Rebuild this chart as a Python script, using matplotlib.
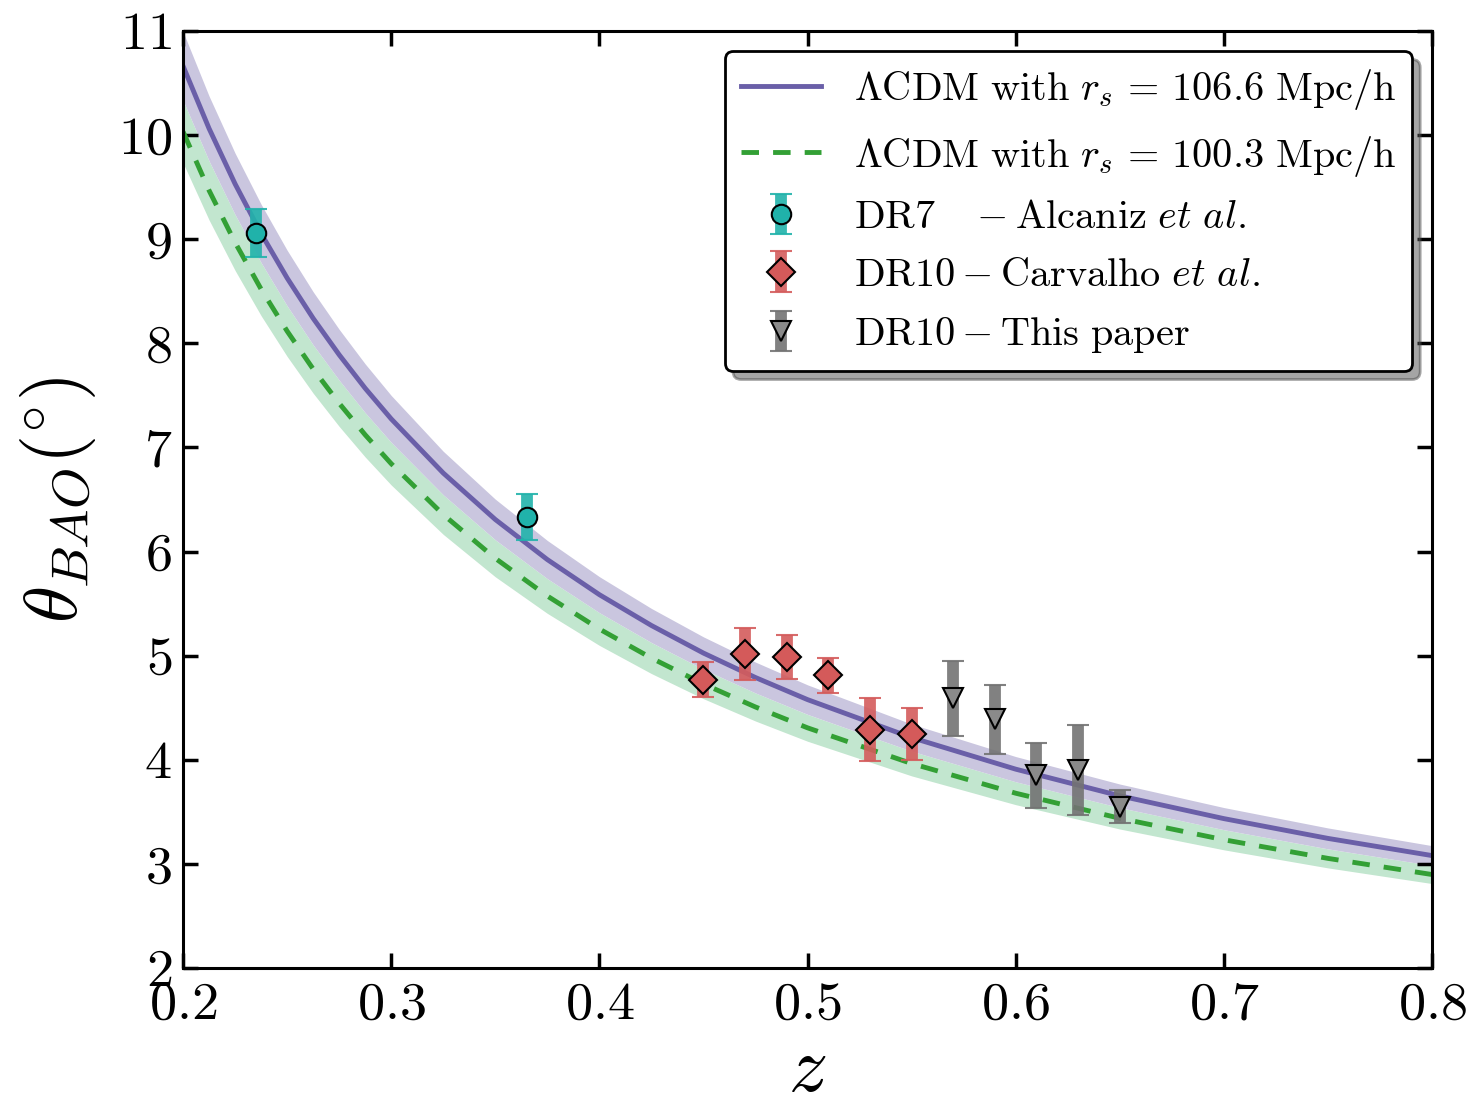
import matplotlib
matplotlib.use("Agg")
import matplotlib.pyplot as plt
from matplotlib.patches import Shadow
import numpy as np

plt.rcParams['font.family'] = 'serif'
plt.rcParams['font.serif'] = ['cmr10']
plt.rcParams['mathtext.fontset'] = 'cm'
plt.rcParams['axes.formatter.use_mathtext'] = True

# model curves (denser sampling where the curve bends most)
z_model = [0.2000, 0.2125, 0.2250, 0.2375, 0.2500, 0.2625, 0.2750, 0.2875,
           0.300, 0.325, 0.350, 0.375, 0.400, 0.425, 0.450, 0.475, 0.500,
           0.550, 0.600, 0.650, 0.700, 0.750, 0.800]
theta_1066 = [10.663, 10.063, 9.531, 9.055, 8.627, 8.240, 7.890, 7.568,
              7.274, 6.754, 6.308, 5.923, 5.586, 5.290, 5.025, 4.790, 4.578,
              4.213, 3.910, 3.654, 3.435, 3.245, 3.080]
theta_1003 = [10.033, 9.468, 8.968, 8.520, 8.117, 7.753, 7.424, 7.121,
              6.844, 6.355, 5.935, 5.573, 5.256, 4.977, 4.728, 4.507, 4.307,
              3.964, 3.679, 3.438, 3.232, 3.053, 2.898]
rs_1066, drs_1066 = 106.6, 3.3
rs_1003, drs_1003 = 100.3, 3.0

# data points
z_dr7 = [0.235, 0.365]
th_dr7 = [9.06, 6.33]
err_dr7 = [0.23, 0.22]

z_carv = [0.45, 0.47, 0.49, 0.51, 0.53, 0.55]
th_carv = [4.77, 5.02, 4.99, 4.81, 4.29, 4.25]
err_carv = [0.17, 0.25, 0.21, 0.17, 0.30, 0.25]

z_this = [0.57, 0.59, 0.61, 0.63, 0.65]
th_this = [4.59, 4.39, 3.85, 3.90, 3.55]
err_this = [0.36, 0.33, 0.31, 0.43, 0.16]

fig = plt.figure(figsize=(14.74, 11.11), dpi=100)
ax = fig.add_axes([0.1242, 0.1287, 0.8473, 0.8434])

zm = np.array(z_model)
t1 = np.array(theta_1066)
t2 = np.array(theta_1003)

# bands
ax.fill_between(zm, t2 * (rs_1003 - drs_1003) / rs_1003, t2 * (rs_1003 + drs_1003) / rs_1003,
                color='#c2e6cf', lw=0, zorder=1)
ax.fill_between(zm, t1 * (rs_1066 - drs_1066) / rs_1066, t1 * (rs_1066 + drs_1066) / rs_1066,
                color='#cac6df', lw=0, zorder=1.1)

ax.plot(zm, t1, color='#6a5fa8', lw=3.5, zorder=2,
        label=r'$\Lambda\mathrm{CDM\ with}\ r_s\,=\,106.6\ \mathrm{Mpc/h}$')
ax.plot(zm, t2, color='#33a035', lw=3.5, ls=(0, (3.6, 2.9)), zorder=2,
        label=r'$\Lambda\mathrm{CDM\ with}\ r_s\,=\,100.3\ \mathrm{Mpc/h}$')

eb_kw = dict(ls='none', ms=14, mec='black', mew=1.5, elinewidth=8.5,
             capsize=8, capthick=1.5, zorder=3)
ax.errorbar(z_dr7, th_dr7, yerr=err_dr7, fmt='o', color='#20b2aa',
            ecolor=(0.13, 0.70, 0.67, 0.9), label=r'$\mathrm{DR7}\quad - \mathrm{Alcaniz}\ et\ al.$', **eb_kw)
ax.errorbar(z_carv, th_carv, yerr=err_carv, fmt='D', color='#d45a5a',
            ecolor=(0.83, 0.36, 0.36, 0.9), label=r'$\mathrm{DR10} - \mathrm{Carvalho}\ et\ al.$', **eb_kw)
ax.errorbar(z_this, th_this, yerr=err_this, fmt='v', color='#8a8a8a',
            ecolor=(0.45, 0.45, 0.45, 0.9), label=r'$\mathrm{DR10} - \mathrm{This\ paper}$', **eb_kw)

ax.set_xlim(0.2, 0.8)
ax.set_ylim(2, 11)
ax.set_xticks(np.arange(0.2, 0.81, 0.1))
ax.set_yticks(np.arange(2, 12, 1))
ax.tick_params(direction='in', length=11, width=2.5, top=True, right=True,
               labelsize=39)
ax.tick_params(axis='x', pad=10)
ax.tick_params(axis='y', pad=8)
for sp in ax.spines.values():
    sp.set_linewidth(2.2)

ax.set_xlabel(r'$z$', fontsize=56, labelpad=6)
ax.set_ylabel(r'$\theta_{BAO}(^{\circ})$', fontsize=54, labelpad=14)

leg = ax.legend(loc='upper right', fontsize=29, frameon=True, fancybox=True,
                framealpha=1, borderaxespad=0.5, numpoints=1,
                labelspacing=0.53)
leg.get_frame().set_edgecolor('black')
leg.get_frame().set_linewidth(2)

# draw once so the legend frame has its final size, then add a larger shadow
fig.canvas.draw()
sh = Shadow(leg.legendPatch, 6, -6)
sh.set_zorder(4.9)
ax.add_artist(sh)
sh.set_clip_on(False)

fig.savefig('out.png', dpi=100)
